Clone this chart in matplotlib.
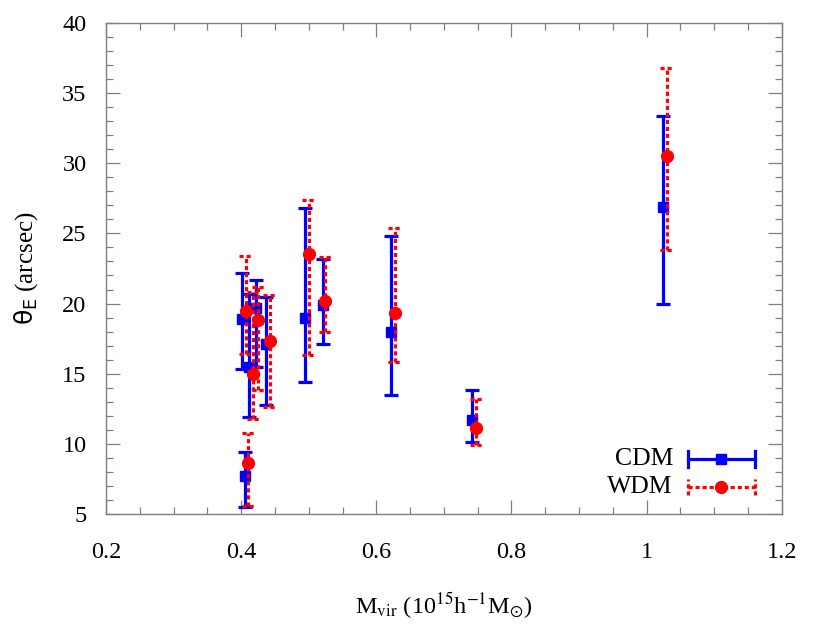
import numpy as np
import matplotlib
matplotlib.use('Agg')
import matplotlib.pyplot as plt
from matplotlib.ticker import MultipleLocator

plt.rcParams['font.family'] = ['Liberation Serif', 'DejaVu Serif']
plt.rcParams['mathtext.fontset'] = 'stix'

# CDM haloes: mass, Einstein radius and its range
m_cdm = [0.401, 0.412, 0.422, 0.437, 0.405, 0.495, 0.521, 0.622, 0.742, 1.024]
th_cdm = [18.9, 15.5, 19.7, 17.1, 7.7, 19.0, 19.9, 18.0, 11.7, 26.9]
lo_cdm = [15.3, 11.9, 15.5, 12.8, 5.5, 14.4, 17.1, 13.5, 10.1, 20.0]
hi_cdm = [22.2, 20.7, 21.7, 20.5, 9.4, 26.8, 23.2, 24.8, 13.8, 33.4]

# WDM haloes
m_wdm = [0.407, 0.418, 0.425, 0.442, 0.410, 0.500, 0.524, 0.627, 0.748, 1.030]
th_wdm = [19.5, 15.0, 18.8, 17.3, 8.6, 23.5, 20.2, 19.3, 11.1, 30.5]
lo_wdm = [16.4, 11.8, 13.8, 12.6, 5.6, 16.3, 18.0, 15.8, 9.9, 23.8]
hi_wdm = [23.4, 20.8, 21.2, 20.6, 10.8, 27.4, 23.3, 25.4, 13.2, 36.8]

blue = '#0000ff'
red = '#ff0000'
lw = 2.3
dots = (0, (1.3, 0.9))

fig = plt.figure(figsize=(8.22, 6.4), dpi=100)
ax = fig.add_axes([0.129, 0.197, 0.822, 0.767])

# CDM
m = np.array(m_cdm); t = np.array(th_cdm)
err = [t - np.array(lo_cdm), np.array(hi_cdm) - t]
ax.errorbar(m, t, yerr=err, fmt='s', color=blue, ms=7, lw=lw,
            capsize=4.8, capthick=lw, zorder=3)

# WDM (dotted bars, dotted caps)
m = np.array(m_wdm); t = np.array(th_wdm)
ax.vlines(m, lo_wdm, hi_wdm, color=red, lw=lw, linestyles=[dots], zorder=4)
cw = 0.0095
ax.hlines(lo_wdm, m - cw, m + cw, color=red, lw=lw, linestyles=[dots], zorder=4)
ax.hlines(hi_wdm, m - cw, m + cw, color=red, lw=lw, linestyles=[dots], zorder=4)
ax.plot(m, t, 'o', color=red, ms=8.5, zorder=5)

ax.set_xlim(0.2, 1.2)
ax.set_ylim(5, 40)
ax.xaxis.set_major_locator(MultipleLocator(0.2))
ax.xaxis.set_minor_locator(MultipleLocator(0.05))
ax.yaxis.set_major_locator(MultipleLocator(5))
ax.yaxis.set_minor_locator(MultipleLocator(1))
ax.set_xticks([0.2, 0.4, 0.6, 0.8, 1.0, 1.2])
ax.set_xticklabels(['0.2', '0.4', '0.6', '0.8', '1', '1.2'])

for s in ax.spines.values():
    s.set_color('#808080')
    s.set_linewidth(1.0)
ax.tick_params(which='both', direction='in', top=True, right=True,
               color='#808080', labelsize=17.5)
ax.tick_params(which='major', length=10, width=0.9)
ax.tick_params(which='minor', length=5, width=0.9)
ax.tick_params(axis='x', pad=20)
ax.tick_params(axis='y', pad=14)

ax.set_xlabel(r'M$_{\rm vir}$ (10$^{15}$h$^{-1}$M$_{\odot}$)', fontsize=17.5, labelpad=20)
ax.set_ylabel(r'$\mathrm{\theta_E}$ (arcsec)', fontsize=18, labelpad=16,
              math_fontfamily='dejavusans')

# key, gnuplot-like, lower right
tr = ax.transAxes
x0, x1 = 0.861, 0.960
xc = 0.5 * (x0 + x1)
ch = 0.016
for yk, lab, col, mk, ms, ls in [(0.112, 'CDM', blue, 's', 7, '-'),
                                 (0.055, 'WDM', red, 'o', 8.5, dots)]:
    ax.text(0.839, yk, lab, transform=tr, ha='right', va='center', fontsize=18.5)
    ax.plot([x0, x1], [yk, yk], transform=tr, color=col, lw=lw, ls=ls, clip_on=False)
    for xe in (x0, x1):
        ax.plot([xe, xe], [yk - ch, yk + ch], transform=tr, color=col, lw=lw,
                ls=ls, clip_on=False)
    ax.plot([xc], [yk], transform=tr, marker=mk, color=col, ms=ms, clip_on=False)

fig.savefig('out.png', dpi=100)
